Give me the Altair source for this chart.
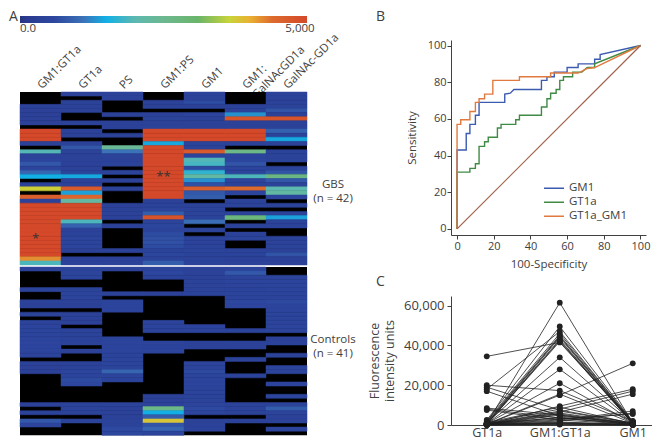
import altair as alt
import pandas as pd

N = None
# ---------- heat map values ----------
columns = ["GM1:GT1a", "GT1a", "PS", "GM1:PS", "GM1", "GM1:\nGalNAcGD1a", "GalNAc-GD1a"]
gbs_gm1gt1a = [N,N,N,380,360,360,350,360,N,5000,
               5000,5000,420,N,1950,450,480,800,500,950,
               1500,N,420,3700,N,4600,400,5000,5000,5000,
               5000,5000,5000,5000,5000,5000,5000,5000,5000,5000,
               4200,1900]
gbs_gt1a = [380,N,400,420,400,N,N,380,N,400,
            420,N,380,800,450,420,420,380,420,450,
            1450,400,420,4700,1400,4500,2200,5000,5000,5000,
            5000,1900,900,380,450,520,480,500,400,N,
            380,420]
gbs_ps = [400,400,N,N,N,420,N,400,420,N,
          420,N,N,2400,1100,450,420,430,N,430,
          N,400,N,450,N,N,N,420,420,400,
          400,N,420,N,N,N,N,N,420,N,
          400,420]
gbs_gm1ps = [N,N,420,400,N,420,450,420,430,5000,
             5000,5000,1450,5000,5000,5000,5000,5000,5000,5000,
             5000,5000,5000,5000,5000,5000,420,450,480,850,
             4800,500,550,450,650,700,720,650,430,550,
             450,850]
gbs_gm1 = [420,420,650,420,N,500,400,400,380,5000,
           5000,5000,430,450,4700,500,1950,1850,650,1700,
           2200,1300,700,4600,800,850,N,430,430,450,
           450,1050,N,430,N,450,460,450,470,440,
           430,430]
gbs_gm1gd1a = [N,N,N,420,380,1300,4800,400,400,5000,
               5000,5000,420,N,2600,500,550,750,480,500,
               1900,500,450,4400,500,N,430,430,N,430,
               2800,N,430,N,420,430,N,N,430,430,
               420,420]
gbs_gd1a = [420,420,420,430,750,420,4800,400,400,900,
            450,1450,420,N,430,430,430,N,450,750,
            2700,800,450,2000,2200,500,N,430,N,420,
            1400,430,430,N,N,430,430,430,420,750,
            420,400]
ctl_gm1gt1a = [420,N,N,N,N,450,N,N,430,400,
               N,430,N,480,480,480,500,500,520,500,
               480,480,N,380,380,380,N,N,N,N,
               N,N,N,380,N,430,N,800,480,N,
               N]
ctl_gt1a = [450,480,480,N,N,430,470,470,400,380,
            N,400,380,380,N,430,450,430,420,N,
            420,N,N,420,450,520,480,650,600,N,
            N,N,N,430,430,430,N,430,N,N,
            N]
ctl_ps = [420,N,N,N,N,N,430,N,480,480,
          480,N,N,N,N,N,N,470,470,480,
          480,480,490,500,500,950,470,460,N,N,
          N,N,N,430,400,380,400,430,430,620,
          600]
ctl_gm1ps = [430,600,450,N,N,N,420,N,N,N,
             N,N,N,470,470,440,N,N,470,460,
             470,N,N,N,N,N,N,N,N,N,
             N,410,400,380,2600,1500,850,3800,750,950,
             500]
ctl_gm1 = [400,410,420,440,440,440,430,N,N,N,
           N,N,N,N,460,470,N,N,420,420,
           N,N,N,470,480,620,490,490,490,490,
           470,440,430,500,620,520,N,400,400,430,
           N]
ctl_gm1gd1a = [430,800,470,470,470,460,470,480,580,520,
               N,N,N,N,N,430,N,N,420,400,
               N,N,430,N,N,N,430,N,N,N,
               N,N,N,430,450,450,N,420,N,N,
               N]
ctl_gd1a = [N,N,470,470,470,470,480,480,620,490,
            480,480,490,480,490,490,N,400,400,N,
            N,450,N,N,470,500,N,N,500,N,
            N,480,N,450,850,470,420,420,N,480,
            N]
# ---------- colour scale ----------
stop_pos = [0, 0.02, 0.12, 0.22, 0.30, 0.40, 0.50, 0.62, 0.73, 0.80, 0.88, 1.0]
stop_col = ["#27347f", "#2a3a8f", "#2d479f", "#3b72b8", "#12b0e6", "#5cb8b0", "#6cb88f",
            "#6ab56a", "#c8d43a", "#e9b133", "#dd6a2d", "#d4492a"]
max_val = 5000
# ---------- ROC ----------
gm1_x = [0,0,5,5,7,7,10,10,12,12,26,26,29,31,46,46,49,49,53,53,60,60,66,66,75,75,78,78,100]
gm1_y = [0,43,43,52,52,57,57,62,62,69,69,73.5,74,76,76,81,81,83,83,85.5,85.5,88,88,90,90,92.5,92.5,95,100]
gt1a_x = [0,0,7,7,10,10,12,12,15,15,17,17,22,22,24,24,32,32,34,34,46,46,49,49,51,51,54,54,56,56,58,58,63,63,68,71,75,75,100]
gt1a_y = [0,31,31,33,33,35.5,35.5,45,45,47.5,47.5,50,50,55,55,57,57,59.5,59.5,62,62,66.5,66.5,71,71,74,74,76,76,81,81,83,83,85.5,85.5,88,88,90,100]
both_x = [0,0,2,2,7,7,10,10,12,12,15,15,19.5,19.5,34,34,51,51,66,71,75,100]
both_y = [0,57,57,59.5,59.5,64,64,69,69,71,71,73.5,73.5,81,81,83,83,85,85,87.5,88,100]
diag_x = [0, 100]
diag_y = [0, 100]
roc_names = ["GM1", "GT1a", "GT1a_GM1"]
roc_cols = ["#3a5bb0", "#3f8a45", "#e07a3f"]
# ---------- paired intensities ----------
pair_names = ["GT1a", "GM1:GT1a", "GM1"]
pair_gt1a = [34500,800,20000,19000,18000,17000,8500,8000,7500,2500,2000,1500,1000,800,500,400,300,1000,600,700,500,
             300,200,1200,900,600,500,400,300,200,100,1000,700,500,400,300,250,200,150,100,80,50]
pair_mix = [41500,61500,17300,7500,47000,4500,5000,3500,2500,49500,46000,45000,44500,44000,43000,42500,42000,34000,28000,21000,15500,
            15000,9500,9000,8000,7000,6500,6000,5500,5000,4000,3500,3000,2500,2000,1500,1200,1000,800,600,400,200]
pair_gm1 = [1500,1000,2000,1000,1500,800,600,500,400,1800,1500,1200,1000,900,800,700,600,1500,1200,1000,900,
            31000,18000,700,17000,1000,15500,800,600,500,400,300,5500,7000,6000,300,250,200,150,100,80,50]

TXT = "#404040"
LW = 287


def spacer(w, h, letter=None, lx=0, ly=0):
    c = alt.Chart(pd.DataFrame({"t": [letter or " "]})).mark_text(
        align="left", baseline="top", fontSize=14, color=TXT, x=lx, y=ly
    ).encode(text="t:N")
    return c.properties(width=w, height=h, view=alt.ViewConfig(stroke=None))


def heat(cols, h, rows_lab, lab_y, stars):
    n = len(cols[0])
    recs = [dict(col=columns[j], row=i, v=cols[j][i]) for j in range(7) for i in range(n)]
    df = pd.DataFrame(recs)
    df["v"] = df["v"].astype(float)
    xs = alt.X("col:N", sort=columns, scale=alt.Scale(paddingInner=0, paddingOuter=0), axis=None)
    ys = alt.Y("row:O", scale=alt.Scale(paddingInner=0, paddingOuter=0), axis=None)
    back = alt.Chart(pd.DataFrame({"k": [1]})).mark_rect(color="black").encode(
        x=alt.value(0), x2=alt.value(LW), y=alt.value(0), y2=alt.value(h))
    scale = alt.Scale(domain=[p * max_val for p in stop_pos], range=stop_col, interpolate="rgb", clamp=True)
    front = alt.Chart(df).transform_filter("isValid(datum.v) && isFinite(datum.v)").mark_rect(strokeWidth=0.5).encode(
        x=xs, y=ys,
        color=alt.Color("v:Q", legend=None, scale=scale),
        stroke=alt.Color("v:Q", legend=None, scale=scale),
    )
    lab = alt.Chart(pd.DataFrame({"t": [rows_lab]})).mark_text(
        lineBreak="\n", lineHeight=14, fontSize=11.5, color=TXT, align="center", baseline="top", x=LW + 26, y=lab_y
    ).encode(text="t:N")
    layers = [back, front, lab]
    for s in stars:
        layers.append(alt.Chart(pd.DataFrame([s])).mark_text(
            fontSize=13, color="#333", yOffset=1, xOffset=s["off"]).encode(x=xs, y=ys, text="t:N"))
    return alt.layer(*layers).properties(width=LW, height=h, view=alt.ViewConfig(stroke=None))


gbs = heat([gbs_gm1gt1a, gbs_gt1a, gbs_ps, gbs_gm1ps, gbs_gm1, gbs_gm1gd1a, gbs_gd1a], 173,
           "GBS\n(n = 42)", 87,
           [dict(col="GM1:GT1a", row=35, t="*", off=-5), dict(col="GM1:PS", row=20, t="**", off=0)])
ctl = heat([ctl_gm1gt1a, ctl_gt1a, ctl_ps, ctl_gm1ps, ctl_gm1, ctl_gm1gd1a, ctl_gd1a], 168.3,
           "Controls\n(n = 41)", 67, [])

# colour bar
bar_x = alt.X("a:Q", scale=alt.Scale(domain=[0, max_val], nice=False), axis=None)
bar = alt.Chart(pd.DataFrame({"a": [0], "b": [max_val]})).mark_rect(
    color=alt.LinearGradient(gradient="linear", x1=0, x2=1, y1=0, y2=0,
                             stops=[alt.GradientStop(offset=p, color=c) for p, c in zip(stop_pos, stop_col)])
).encode(x=bar_x, x2="b:Q", y=alt.value(0), y2=alt.value(7))
bar_min = alt.Chart(pd.DataFrame({"a": [0], "t": ["0.0"]})).mark_text(
    fontSize=11.5, color=TXT, baseline="middle", align="left", y=13
).encode(x=bar_x, text="t:N")
bar_max = alt.Chart(pd.DataFrame({"a": [max_val], "t": ["5,000"]})).mark_text(
    fontSize=11.5, color=TXT, baseline="middle", align="center", y=13, xOffset=-7
).encode(x=bar_x, text="t:N")
colorbar = alt.layer(bar, bar_min, bar_max).properties(width=LW, height=7, view=alt.ViewConfig(stroke=None))

# rotated column titles
col_lab = alt.Chart(pd.DataFrame({"col": columns})).mark_text(
    angle=315, align="left", baseline="bottom", lineBreak="\n", fontSize=11.5, color=TXT, y=68, xOffset=3
).encode(
    x=alt.X("col:N", sort=columns, scale=alt.Scale(paddingInner=0, paddingOuter=0), axis=None),
    text="col:N",
).properties(width=LW, height=69, view=alt.ViewConfig(stroke=None))

left = alt.vconcat(
    spacer(LW, 5.2, "A", -11, 0), colorbar, col_lab, gbs, spacer(LW, 1.7), ctl,
    spacing=0, bounds="flush",
)

# ROC
roc_df = pd.concat([
    pd.DataFrame({"x": gm1_x, "y": gm1_y, "s": "GM1"}),
    pd.DataFrame({"x": gt1a_x, "y": gt1a_y, "s": "GT1a"}),
    pd.DataFrame({"x": both_x, "y": both_y, "s": "GT1a_GM1"}),
]).reset_index(names="o")
rx = alt.X("x:Q", scale=alt.Scale(domain=[-3.3, 103], nice=False), title="100-Specificity",
           axis=alt.Axis(values=[0, 20, 40, 60, 80, 100], grid=False, labelFontSize=11, titleFontSize=11.5,
                         titleFontWeight="normal", labelColor=TXT, titleColor=TXT, domainColor=TXT, tickColor=TXT,
                         tickSize=4, titlePadding=7, labelPadding=1))
ry = alt.Y("y:Q", scale=alt.Scale(domain=[-3.3, 103], nice=False), title="Sensitivity",
           axis=alt.Axis(values=[0, 20, 40, 60, 80, 100], grid=False, labelFontSize=11, titleFontSize=11.5,
                         titleFontWeight="normal", labelColor=TXT, titleColor=TXT, domainColor=TXT, tickColor=TXT,
                         tickSize=4, titlePadding=10, labelPadding=1))
roc_diag = alt.Chart(pd.DataFrame({"x": diag_x, "y": diag_y})).mark_line(color="#a0604a", strokeWidth=1.2).encode(x=rx, y=ry)
roc_lines = alt.Chart(roc_df).mark_line(strokeWidth=1.4).encode(
    x=rx, y=ry, order="o:Q",
    color=alt.Color("s:N", scale=alt.Scale(domain=roc_names, range=roc_cols), title=None,
                    legend=alt.Legend(orient="none", legendX=92, legendY=172, symbolType="stroke",
                                      symbolSize=400, symbolStrokeWidth=1.4, labelFontSize=11.5,
                                      labelColor=TXT, padding=0, rowPadding=1, clipHeight=12.5)),
)
roc = alt.layer(roc_lines, roc_diag).properties(width=195, height=195, view=alt.ViewConfig(stroke=None))

# paired chart
recs = []
for i in range(len(pair_gt1a)):
    recs += [dict(id=i, g="GT1a", v=pair_gt1a[i]), dict(id=i, g="GM1:GT1a", v=pair_mix[i]), dict(id=i, g="GM1", v=pair_gm1[i])]
pdf = pd.DataFrame(recs)
px = alt.X("g:N", sort=pair_names, title=None,
           scale=alt.Scale(type="point", padding=0.377, align=0.65),
           axis=alt.Axis(labelAngle=0, ticks=False, labelFontSize=12.5, labelColor=TXT, domainColor=TXT, labelPadding=1))
py = alt.Y("v:Q", scale=alt.Scale(domain=[0, 64840], nice=False),
           title=["Fluorescence", "intensity units"],
           axis=alt.Axis(values=[0, 20000, 40000, 60000], format=",.0f", grid=False, labelFontSize=13, titleFontSize=12.5,
                         titleFontWeight="normal", labelColor=TXT, titleColor=TXT, domainColor=TXT, tickColor=TXT,
                         tickSize=4, titlePadding=7, labelPadding=3))
pair_line = alt.Chart(pdf).mark_line(color="#222", strokeWidth=0.8, clip=False).encode(x=px, y=py, detail="id:N")
pair_pt = alt.Chart(pdf).mark_circle(color="#222", size=34, opacity=1, clip=False).encode(x=px, y=py)
pair = alt.layer(pair_line, pair_pt).properties(width=201, height=129, view=alt.ViewConfig(stroke=None))

right = alt.vconcat(
    spacer(195, 29.2, "B", -75, 0), roc, spacer(195, 61, "C", -75, 40), pair,
    spacing=0, bounds="flush",
)

chart = alt.hconcat(left, right, spacing=12).properties(
    padding={"left": 1, "top": 2, "right": 0, "bottom": 0}
).configure(font="Open Sans").configure_view(stroke=None)

chart.save("out.html", embed_options={"renderer": "svg", "actions": False})
